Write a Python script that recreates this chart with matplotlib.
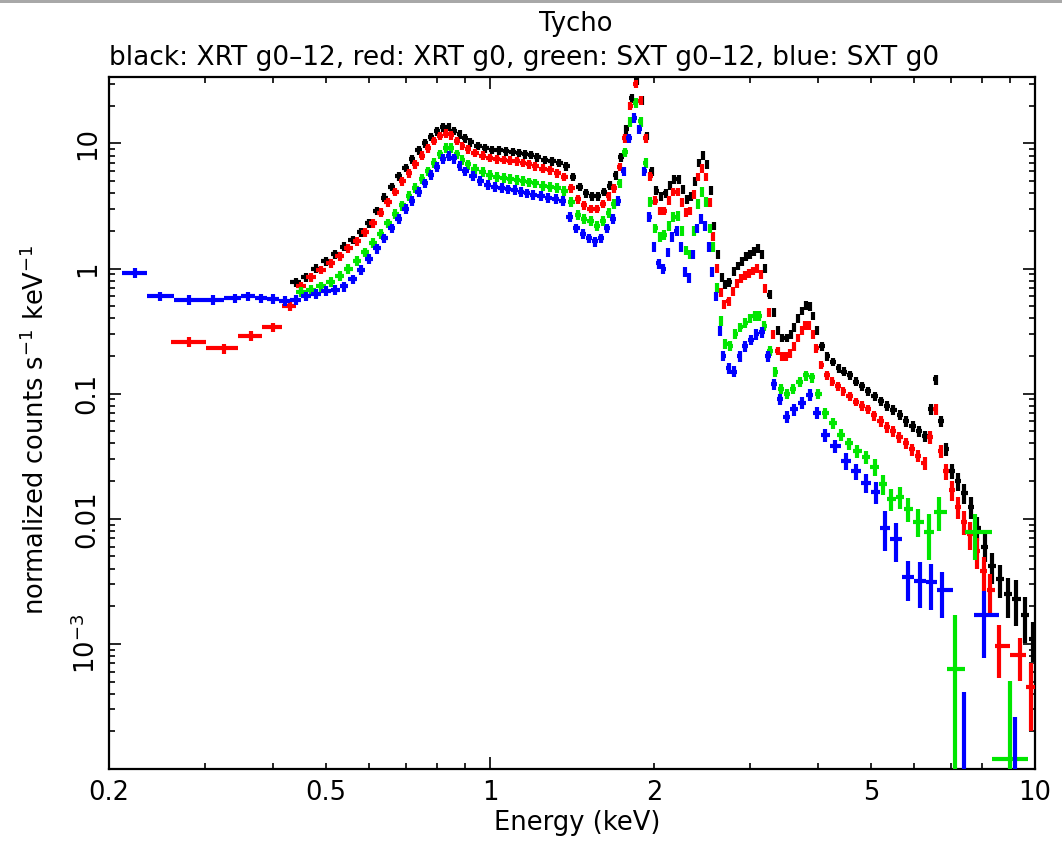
import numpy as np
import matplotlib
matplotlib.use("Agg")
import matplotlib.pyplot as plt
from matplotlib.ticker import FixedLocator, FuncFormatter
from matplotlib.patches import Rectangle

# ---------------- data ----------------
title_main = "Tycho"
title_sub = "black: XRT g0\u201312, red: XRT g0, green: SXT g0\u201312, blue: SXT g0"
x_label = "Energy (keV)"
y_label = "normalized counts s$^{-1}$ keV$^{-1}$"

x_major = [1, 10]
x_minor = [0.2, 0.3, 0.4, 0.5, 0.6, 0.7, 0.8, 0.9, 2, 3, 4, 5, 6, 7, 8, 9]
x_labels = {0.2: "0.2", 0.5: "0.5", 1: "1", 2: "2", 5: "5", 10: "10"}
y_major = [1e-4, 1e-3, 1e-2, 1e-1, 1, 10]
y_labels = {10: "10", 1: "1", 0.1: "0.1", 0.01: "0.01", 0.001: "10$^{-3}$"}

# XRT g0-12 (black)
black_e = [0.44, 0.46, 0.48, 0.50, 0.52, 0.54, 0.56, 0.58, 0.60, 0.62,
           0.64, 0.66, 0.68, 0.70, 0.72, 0.74, 0.76, 0.78, 0.80, 0.82,
           0.84, 0.86, 0.88, 0.90,
           0.92, 0.95, 0.98, 1.01, 1.04, 1.07, 1.10, 1.13, 1.16, 1.19, 1.22,
           1.26, 1.30, 1.34, 1.38, 1.42, 1.46, 1.50, 1.54, 1.58, 1.62,
           1.66, 1.70, 1.74, 1.78, 1.82, 1.86, 1.90, 1.94, 1.98, 2.02,
           2.06, 2.10, 2.14, 2.18, 2.22, 2.26, 2.30, 2.34, 2.38, 2.42,
           2.46, 2.50, 2.54, 2.58, 2.62, 2.66, 2.70,
           2.75, 2.80, 2.85, 2.90, 2.95, 3.00, 3.05, 3.10, 3.15, 3.20,
           3.26, 3.32, 3.38, 3.44, 3.50, 3.56, 3.62, 3.68, 3.74, 3.80,
           3.86, 3.92, 3.98,
           4.06, 4.16, 4.26, 4.36, 4.46, 4.58, 4.70, 4.82, 4.94,
           5.08, 5.22, 5.36, 5.50, 5.65, 5.80, 5.96, 6.12, 6.28,
           6.44, 6.58, 6.72, 6.88, 7.04, 7.22, 7.42, 7.62, 7.84, 8.08,
           8.34, 8.62, 8.92, 9.24, 9.58, 9.90]
black_v = [0.78, 0.85, 1.0, 1.15, 1.3, 1.5, 1.7, 1.95, 2.3, 2.9,
           3.7, 4.5, 5.5, 6.4, 7.5, 8.8, 10.0, 11.3, 12.5, 13.5,
           13.6, 12.6, 11.8, 11.0,
           10.2, 9.6, 9.2, 8.9, 8.8, 8.7, 8.6, 8.4, 8.2, 8.1, 7.8,
           7.4, 7.2, 7.0, 6.6, 5.4, 4.5, 4.0, 3.8, 3.8, 4.1,
           4.6, 5.6, 7.8, 13, 23, 32, 22, 11.5, 6.0, 4.2,
           3.8, 4.0, 4.6, 5.2, 5.2, 4.3, 3.6, 3.8, 5.0, 7.0,
           8.0, 6.8, 4.2, 2.2, 1.3, 0.85, 0.75,
           0.78, 0.95, 1.05, 1.15, 1.25, 1.3, 1.38, 1.45, 1.3, 1.0,
           0.62, 0.45, 0.32, 0.28, 0.28, 0.30, 0.34, 0.40, 0.46, 0.51,
           0.50, 0.42, 0.32,
           0.24, 0.20, 0.18, 0.16, 0.15, 0.14, 0.125, 0.115, 0.105,
           0.095, 0.087, 0.080, 0.074, 0.068, 0.060, 0.055, 0.050, 0.046,
           0.075, 0.13, 0.060, 0.036, 0.024, 0.020, 0.016, 0.0125, 0.0085, 0.0060,
           0.0042, 0.0033, 0.0025, 0.0023, 0.0017, 0.0011]
black_err = [0.08, 0.08, 0.08, 0.08, 0.08, 0.08, 0.08, 0.08, 0.08, 0.08,
             0.08, 0.08, 0.08, 0.08, 0.08, 0.08, 0.08, 0.08, 0.08, 0.08,
             0.08, 0.08, 0.08, 0.08,
             0.08, 0.08, 0.08, 0.08, 0.08, 0.08, 0.08, 0.08, 0.08, 0.08, 0.08,
             0.08, 0.08, 0.08, 0.08, 0.08, 0.08, 0.08, 0.08, 0.08, 0.08,
             0.08, 0.08, 0.08, 0.08, 0.08, 0.08, 0.08, 0.08, 0.08, 0.08,
             0.08, 0.08, 0.08, 0.08, 0.08, 0.08, 0.08, 0.08, 0.08, 0.08,
             0.08, 0.08, 0.08, 0.08, 0.08, 0.08, 0.08,
             0.08, 0.08, 0.08, 0.08, 0.08, 0.08, 0.08, 0.08, 0.08, 0.08,
             0.08, 0.08, 0.08, 0.08, 0.08, 0.08, 0.08, 0.08, 0.08, 0.08,
             0.08, 0.08, 0.08,
             0.08, 0.08, 0.08, 0.08, 0.08, 0.08, 0.08, 0.08, 0.08,
             0.08, 0.08, 0.09, 0.09, 0.09, 0.10, 0.10, 0.10, 0.10,
             0.10, 0.09, 0.10, 0.12, 0.14, 0.16, 0.18, 0.20, 0.22, 0.25,
             0.28, 0.30, 0.35, 0.40, 0.40, 0.35]

# XRT g0 (red)
red_e = [0.28, 0.325, 0.365, 0.40,
         0.43, 0.45, 0.47, 0.49, 0.51, 0.53, 0.55, 0.57, 0.59, 0.61,
         0.63, 0.65, 0.67, 0.69, 0.71, 0.73, 0.75, 0.77, 0.79, 0.81,
         0.83, 0.85, 0.87, 0.89, 0.91,
         0.94, 0.97, 1.00, 1.03, 1.06, 1.09, 1.12, 1.15, 1.18, 1.21,
         1.25, 1.29, 1.33, 1.37, 1.41, 1.45, 1.49, 1.53, 1.57, 1.61,
         1.65, 1.69, 1.73, 1.77, 1.81, 1.85, 1.89, 1.93, 1.97, 2.01,
         2.05, 2.09, 2.13, 2.17, 2.21, 2.25, 2.29, 2.33, 2.37, 2.41,
         2.45, 2.49, 2.53, 2.57, 2.61, 2.65, 2.69,
         2.74, 2.79, 2.84, 2.89, 2.94, 2.99, 3.04, 3.09, 3.14, 3.19,
         3.25, 3.31, 3.37, 3.43, 3.49, 3.55, 3.61, 3.67, 3.73, 3.79,
         3.85, 3.91, 3.97,
         4.05, 4.15, 4.25, 4.35, 4.45, 4.57, 4.69, 4.81, 4.93,
         5.07, 5.21, 5.35, 5.49,
         5.64, 5.79, 5.95, 6.11, 6.27, 6.43, 6.57, 6.71, 6.87, 7.03,
         7.21, 7.41, 7.61, 7.83, 8.05, 8.28, 8.60, 9.40, 9.85]
red_v = [0.26, 0.23, 0.29, 0.34,
         0.50, 0.72, 0.85, 0.98, 1.1, 1.25, 1.45, 1.65, 1.95, 2.3,
         2.8, 3.4, 4.1, 5.0, 5.8, 6.8, 8.0, 9.2, 10.5, 11.5,
         12.0, 11.6, 10.5, 9.6, 9.0,
         8.4, 8.0, 7.7, 7.5, 7.4, 7.3, 7.2, 7.0, 6.8, 6.6,
         6.3, 6.1, 5.8, 5.4, 4.4, 3.6, 3.2, 3.0, 3.0, 3.3,
         3.8, 4.4, 6.5, 11, 20, 30, 22, 11, 5.5, 3.5,
         2.9, 2.9, 3.5, 4.1, 4.1, 3.4, 2.8, 2.9, 3.9, 5.4,
         6.3, 5.4, 3.4, 1.8, 1.0, 0.65, 0.52,
         0.55, 0.66, 0.76, 0.84, 0.88, 0.92, 0.96, 1.0, 0.9, 0.7,
         0.45, 0.30, 0.22, 0.20, 0.20, 0.21, 0.24, 0.28, 0.32, 0.35,
         0.35, 0.30, 0.23,
         0.17, 0.14, 0.125, 0.115, 0.105, 0.095, 0.086, 0.080, 0.075,
         0.067, 0.060, 0.054, 0.050,
         0.045, 0.040, 0.036, 0.032, 0.028, 0.045, 0.075, 0.035, 0.024, 0.017,
         0.0125, 0.0095, 0.0075, 0.0055, 0.0038, 0.0027, 0.00097, 0.00081, 0.00045]
red_err = [0.09, 0.09, 0.09, 0.09,
           0.08, 0.08, 0.08, 0.08, 0.08, 0.08, 0.08, 0.08, 0.08, 0.08,
           0.08, 0.08, 0.08, 0.08, 0.08, 0.08, 0.08, 0.08, 0.08, 0.08,
           0.08, 0.08, 0.08, 0.08, 0.08,
           0.08, 0.08, 0.08, 0.08, 0.08, 0.08, 0.08, 0.08, 0.08, 0.08,
           0.08, 0.08, 0.08, 0.08, 0.08, 0.08, 0.08, 0.08, 0.08, 0.08,
           0.08, 0.08, 0.08, 0.08, 0.08, 0.08, 0.08, 0.08, 0.08, 0.08,
           0.08, 0.08, 0.08, 0.08, 0.08, 0.08, 0.08, 0.08, 0.08, 0.08,
           0.08, 0.08, 0.08, 0.08, 0.08, 0.08, 0.08,
           0.08, 0.08, 0.08, 0.08, 0.08, 0.08, 0.08, 0.08, 0.08, 0.08,
           0.08, 0.08, 0.08, 0.08, 0.08, 0.08, 0.08, 0.08, 0.08, 0.08,
           0.08, 0.08, 0.08,
           0.08, 0.08, 0.08, 0.08, 0.08, 0.08, 0.08, 0.09, 0.09,
           0.09, 0.10, 0.10, 0.10,
           0.10, 0.10, 0.11, 0.11, 0.12, 0.12, 0.10, 0.12, 0.15, 0.18,
           0.20, 0.22, 0.25, 0.28, 0.30, 0.35, 0.45, 0.38, 0.55]

# SXT g0-12 (green)
green_e = [0.45, 0.47, 0.49, 0.51, 0.53, 0.55, 0.57, 0.59, 0.61, 0.63,
           0.65, 0.67, 0.69, 0.71, 0.73, 0.75, 0.77, 0.79, 0.81, 0.83,
           0.85, 0.87, 0.89, 0.91,
           0.94, 0.97, 1.00, 1.03, 1.06, 1.09, 1.12, 1.15, 1.18, 1.21,
           1.25, 1.29, 1.33, 1.37, 1.41, 1.45, 1.49, 1.53, 1.57, 1.61,
           1.65, 1.69, 1.73, 1.77, 1.81, 1.85, 1.89, 1.93, 1.97, 2.01,
           2.05, 2.09, 2.13, 2.17, 2.21, 2.25, 2.29, 2.33, 2.37, 2.41,
           2.45, 2.49, 2.53, 2.57, 2.61, 2.65,
           2.70, 2.76, 2.82, 2.88, 2.94, 3.00, 3.06, 3.12, 3.18,
           3.26, 3.34, 3.42, 3.50, 3.60, 3.70, 3.80, 3.90, 4.00,
           4.12, 4.26, 4.40, 4.56, 4.72, 4.90, 5.08, 5.26, 5.45, 5.65,
           5.85, 6.10, 6.40, 6.66, 7.13, 7.75, 9.00]
green_v = [0.65, 0.68, 0.72, 0.78, 0.88, 1.0, 1.15, 1.35, 1.6, 1.9,
           2.3, 2.75, 3.2, 3.8, 4.4, 5.2, 6.0, 7.0, 8.2, 9.2,
           9.2, 8.2, 7.4, 6.8,
           6.3, 5.9, 5.6, 5.4, 5.3, 5.2, 5.1, 5.0, 4.9, 4.8,
           4.6, 4.5, 4.4, 4.2, 3.4, 2.7, 2.5, 2.4, 2.2, 2.4,
           2.8, 3.3, 4.8, 8.5, 15, 21, 15, 7.0, 3.4, 2.1,
           1.8, 1.85, 2.2, 2.6, 2.65, 2.0, 1.4, 1.3, 2.0, 3.3,
           4.1, 3.4, 2.1, 1.5, 0.7, 0.38,
           0.25, 0.24, 0.30, 0.34, 0.37, 0.40, 0.42, 0.42, 0.35,
           0.22, 0.15, 0.11, 0.10, 0.11, 0.125, 0.14, 0.135, 0.10,
           0.070, 0.058, 0.047, 0.040, 0.035, 0.031, 0.026, 0.019, 0.0145, 0.015,
           0.012, 0.0095, 0.0078, 0.0114, 0.00063, 0.0078, 0.00012]
green_err = [0.09, 0.09, 0.09, 0.09, 0.09, 0.09, 0.09, 0.09, 0.09, 0.09,
             0.09, 0.09, 0.09, 0.09, 0.09, 0.09, 0.09, 0.09, 0.09, 0.09,
             0.09, 0.09, 0.09, 0.09,
             0.09, 0.09, 0.09, 0.09, 0.09, 0.09, 0.09, 0.09, 0.09, 0.09,
             0.09, 0.09, 0.09, 0.09, 0.09, 0.09, 0.09, 0.09, 0.09, 0.09,
             0.09, 0.09, 0.09, 0.09, 0.09, 0.09, 0.09, 0.09, 0.09, 0.09,
             0.09, 0.09, 0.09, 0.09, 0.09, 0.09, 0.09, 0.09, 0.09, 0.09,
             0.09, 0.09, 0.09, 0.09, 0.09, 0.09,
             0.09, 0.09, 0.09, 0.09, 0.09, 0.09, 0.09, 0.09, 0.09,
             0.09, 0.09, 0.09, 0.09, 0.09, 0.09, 0.09, 0.09, 0.09,
             0.10, 0.10, 0.11, 0.11, 0.12, 0.12, 0.15, 0.18, 0.20, 0.20,
             0.22, 0.25, 0.40, 0.30, 1.70, 0.40, 3.20]

# SXT g0 (blue)
blue_e = [0.223, 0.248, 0.28, 0.31, 0.34, 0.36, 0.38, 0.40, 0.42, 0.44,
          0.46, 0.48, 0.50, 0.52, 0.54, 0.56, 0.58, 0.60, 0.62, 0.64,
          0.66, 0.68, 0.70, 0.72, 0.74, 0.76, 0.78, 0.80, 0.82, 0.84,
          0.86, 0.88, 0.90,
          0.93, 0.96, 0.99, 1.02, 1.05, 1.08, 1.11, 1.14, 1.17, 1.20,
          1.24, 1.28, 1.32, 1.36, 1.40, 1.44, 1.48, 1.52, 1.56, 1.60,
          1.64, 1.68, 1.72, 1.76, 1.80, 1.84, 1.88, 1.92, 1.96, 2.00,
          2.04, 2.08, 2.12, 2.16, 2.20, 2.24, 2.28, 2.32, 2.36, 2.40,
          2.44, 2.48, 2.52, 2.56, 2.60, 2.64, 2.68,
          2.74, 2.80, 2.87, 2.94, 3.01, 3.08, 3.16, 3.24, 3.32, 3.40,
          3.50, 3.62, 3.74, 3.86, 3.98,
          4.12, 4.30, 4.50, 4.70, 4.90, 5.10, 5.30, 5.55, 5.85, 6.15,
          6.45, 6.75, 7.40, 8.05, 9.20]
blue_v = [0.92, 0.60, 0.56, 0.56, 0.58, 0.60, 0.58, 0.57, 0.55, 0.56,
          0.60, 0.63, 0.66, 0.68, 0.72, 0.82, 0.98, 1.2, 1.45, 1.75,
          2.1, 2.5, 3.0, 3.5, 4.1, 4.8, 5.6, 6.5, 7.5, 8.0,
          7.6, 6.6, 6.0,
          5.5, 5.0, 4.7, 4.5, 4.4, 4.3, 4.25, 4.1, 4.0, 3.9,
          3.8, 3.7, 3.6, 3.5, 2.6, 2.1, 1.9, 1.75, 1.65, 1.75,
          2.1, 2.5, 3.5, 6.0, 11, 16, 13, 6.0, 2.6, 1.5,
          1.1, 1.0, 1.35, 1.8, 2.0, 1.5, 0.95, 0.85, 1.3, 2.1,
          2.5, 2.2, 1.5, 0.95, 0.6, 0.32, 0.20,
          0.16, 0.15, 0.20, 0.24, 0.27, 0.30, 0.31, 0.20, 0.12, 0.09,
          0.065, 0.075, 0.085, 0.098, 0.070,
          0.047, 0.038, 0.029, 0.024, 0.0195, 0.0165, 0.0085, 0.0069, 0.0034, 0.0032,
          0.0031, 0.0027, 0.00008, 0.0017, 0.00008]
blue_err = [0.09, 0.09, 0.09, 0.09, 0.09, 0.09, 0.09, 0.09, 0.09, 0.09,
            0.09, 0.09, 0.09, 0.09, 0.09, 0.09, 0.09, 0.09, 0.09, 0.09,
            0.09, 0.09, 0.09, 0.09, 0.09, 0.09, 0.09, 0.09, 0.09, 0.09,
            0.09, 0.09, 0.09,
            0.09, 0.09, 0.09, 0.09, 0.09, 0.09, 0.09, 0.09, 0.09, 0.09,
            0.09, 0.09, 0.09, 0.09, 0.09, 0.09, 0.09, 0.09, 0.09, 0.09,
            0.09, 0.09, 0.09, 0.09, 0.09, 0.09, 0.09, 0.09, 0.09, 0.09,
            0.09, 0.09, 0.09, 0.09, 0.09, 0.09, 0.09, 0.09, 0.09, 0.09,
            0.09, 0.09, 0.09, 0.09, 0.09, 0.09, 0.09,
            0.10, 0.10, 0.10, 0.10, 0.10, 0.10, 0.10, 0.10, 0.10, 0.10,
            0.11, 0.11, 0.11, 0.11, 0.11,
            0.12, 0.12, 0.15, 0.15, 0.18, 0.20, 0.35, 0.35, 0.35, 0.40,
            0.40, 0.40, 4.20, 0.55, 2.25]

series = [
    (black_e, black_v, black_err, "#000000"),
    (red_e, red_v, red_err, "#ff0000"),
    (green_e, green_v, green_err, "#00e600"),
    (blue_e, blue_v, blue_err, "#0000ff"),
]

# ---------------- figure ----------------
FONT = "DejaVu Sans"
FS = 18.5
FS_SUB = 19
plt.rcParams["font.family"] = [FONT]
plt.rcParams["mathtext.fontset"] = "dejavusans"

W, H = 1062, 842
fig = plt.figure(figsize=(W / 100, H / 100), dpi=100)
fig.patch.set_facecolor("white")
L, R, T, B = 109, 1035, 77, 769
ax = fig.add_axes([L / W, 1 - B / H, (R - L) / W, (B - T) / H])


def bins(e):
    le = np.log10(np.asarray(e, float))
    mid = (le[1:] + le[:-1]) / 2
    lo = np.concatenate([[2 * le[0] - mid[0]], mid])
    hi = np.concatenate([mid, [2 * le[-1] - mid[-1]]])
    return 10 ** lo, 10 ** hi


for z, (e, v, f, c) in enumerate(series):
    e = np.asarray(e, float)
    v = np.asarray(v, float)
    f = np.asarray(f, float)
    lo, hi = bins(e)
    yhi = v * f
    ylo = np.minimum(v * f, v * 0.9999)
    ax.errorbar(e, v, xerr=[e - lo, hi - e], yerr=[ylo, yhi], fmt="none",
                ecolor=c, elinewidth=3.0, capsize=0, zorder=2 + z)

ax.set_xscale("log")
ax.set_yscale("log")
ax.set_xlim(0.2, 10)
ax.set_ylim(1.0e-4, 34)

ax.xaxis.set_major_locator(FixedLocator(x_major))
ax.xaxis.set_minor_locator(FixedLocator(x_minor))
fmt_x = FuncFormatter(lambda val, pos: next((s for k, s in x_labels.items() if abs(k - val) < 1e-9), ""))
ax.xaxis.set_major_formatter(fmt_x)
ax.xaxis.set_minor_formatter(fmt_x)

ax.yaxis.set_major_locator(FixedLocator(y_major))
y_minor = [m * d for d in [1e-4, 1e-3, 1e-2, 1e-1, 1, 10] for m in range(2, 10)]
ax.yaxis.set_minor_locator(FixedLocator(y_minor))
fmt_y = FuncFormatter(lambda val, pos: next((s for k, s in y_labels.items() if abs(k - val) / k < 1e-6), ""))
ax.yaxis.set_major_formatter(fmt_y)
ax.yaxis.set_minor_formatter(FuncFormatter(lambda v, p: ""))

ax.tick_params(which="both", direction="in", top=True, right=True,
               width=1.2, color="black", labelsize=FS)
ax.tick_params(which="major", length=8.5)
ax.tick_params(which="minor", length=4.5)
ax.tick_params(axis="x", which="both", pad=8)
ax.tick_params(axis="y", which="both", pad=6)
for lab in ax.get_yticklabels():
    lab.set_rotation(90)
    lab.set_va("center")
    lab.set_ha("right")

for sp in ax.spines.values():
    sp.set_linewidth(1.6)
    sp.set_color("black")

# texts
fig.text(576 / W, 1 - 31 / H, title_main, ha="center", va="baseline", fontsize=FS)
fig.text(109 / W, 1 - 65 / H, title_sub, ha="left", va="baseline", fontsize=FS_SUB)
fig.text(577 / W, 1 - 830 / H, x_label, ha="center", va="baseline", fontsize=FS)
fig.text(36 / W, 1 - 430 / H, y_label, ha="center", va="center", rotation=90, fontsize=FS)

# thin grey border at the top of the capture
fig.patches.append(Rectangle((0, 1 - 3 / H), 1, 3 / H, transform=fig.transFigure,
                             facecolor="#a8a8a8", edgecolor="none"))

fig.savefig("out.png", dpi=100, facecolor="white")
